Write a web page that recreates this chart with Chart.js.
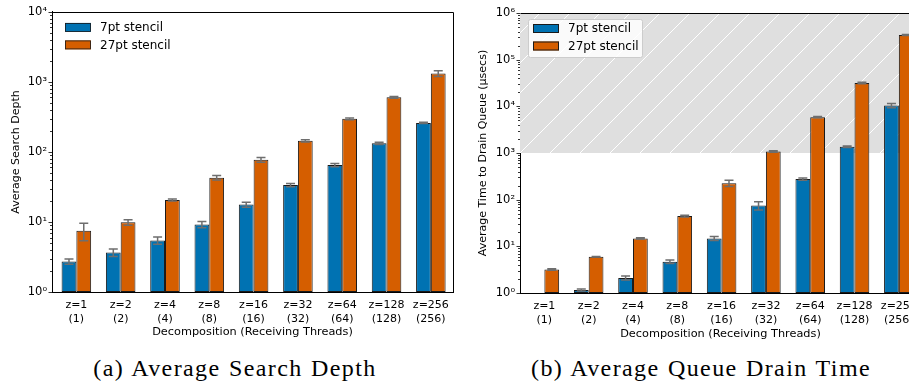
<!DOCTYPE html>
<html>
<head>
<meta charset="utf-8">
<script src="https://cdn.jsdelivr.net/npm/chart.js@4.4.1/dist/chart.umd.min.js"></script>
<style>
  html, body { margin: 0; padding: 0; background: #fff; width: 909px; height: 383px; overflow: hidden; }
  .panel { position: absolute; top: 0; }
  .caption {
    position: absolute; top: 355px; white-space: nowrap;
    font-family: "Liberation Serif", "DejaVu Serif", serif; font-size: 24px; color: #000;
    letter-spacing: 1.4px; word-spacing: 1px;
    transform: translateX(-50%);
  }
</style>
</head>
<body>
<div class="panel" style="left:0px"><canvas id="searchDepthChart" width="460" height="345"></canvas></div>
<div class="panel" style="left:468px"><canvas id="drainTimeChart" width="460" height="345"></canvas></div>
<div class="caption" style="left:235px">(a) Average Search Depth</div>
<div class="caption" style="left:701px">(b) Average Queue Drain Time</div>

<script>
// categorias (eixo x)
const zLabels = ["z=1", "z=2", "z=4", "z=8", "z=16", "z=32", "z=64", "z=128", "z=256"];
const threadLabels = ["(1)", "(2)", "(4)", "(8)", "(16)", "(32)", "(64)", "(128)", "(256)"];
const seriesNames = ["7pt stencil", "27pt stencil"];

// (a) profundidade média de busca
const searchDepth7 = [2.72, 3.67, 5.45, 9.2, 17.7, 33.7, 65, 133, 260];
const searchDepth7Err = [0.23, 0.45, 0.65, 0.95, 1.5, 1.8, 3.5, 5, 6];
const searchDepth27 = [7.5, 9.9, 20.6, 42.9, 77.5, 144, 297, 603, 1320];
const searchDepth27Err = [2.1, 0.9, 0.7, 3.2, 6, 5, 8, 18, 120];

// (b) tempo médio para drenar a fila (usecs)
const drainTime7 = [null, 1.16, 2.1, 4.68, 14.8, 75, 276, 1358, 10400];
const drainTime7Err = [0, 0.06, 0.2, 0.4, 1.5, 15, 15, 50, 1100];
const drainTime27 = [3.2, 5.98, 14.8, 44.6, 226, 1077, 5870, 31800, 339000];
const drainTime27Err = [0.12, 0.1, 0.5, 2, 35, 40, 200, 1200, 8000];

const blue = "#0072B2";
const orange = "#D55E00";
const font = "DejaVu Sans";
const supDigits = { "0": "⁰", "1": "¹", "2": "²", "3": "³", "4": "⁴", "5": "⁵", "6": "⁶", "7": "⁷", "8": "⁸", "9": "⁹" };

function powerLabel(v) {
  const e = Math.round(Math.log10(v));
  if (Math.abs(v - Math.pow(10, e)) > 1e-6 * v) return "";
  return "10" + String(e).split("").map((d) => supDigits[d]).join("");
}

// plugin: faixa hachurada, barras de erro, ticks menores, moldura e legenda
const extrasPlugin = {
  id: "extras",
  beforeDatasetsDraw(chart, args, opts) {
    if (opts.shadeFrom == null) return;
    const { ctx, chartArea: a } = chart;
    const y = chart.scales.y;
    const top = y.getPixelForValue(y.max);
    const bottom = y.getPixelForValue(opts.shadeFrom);
    ctx.save();
    ctx.beginPath();
    ctx.rect(a.left, top, a.right - a.left, bottom - top);
    ctx.clip();
    ctx.fillStyle = "#dfdfdf";
    ctx.fillRect(a.left, top, a.right - a.left, bottom - top);
    ctx.strokeStyle = "#fff";
    ctx.lineWidth = 1;
    ctx.beginPath();
    const h = bottom - top;
    for (let x = a.left - h - 10; x < a.right + 10; x += 30) {
      ctx.moveTo(x, bottom);
      ctx.lineTo(x + h, top);
    }
    ctx.stroke();
    ctx.restore();
  },
  afterDatasetsDraw(chart, args, opts) {
    const { ctx, chartArea: a } = chart;
    const y = chart.scales.y;
    ctx.save();

    // barras de erro
    ctx.strokeStyle = "#6e6e6e";
    ctx.lineWidth = 1.5;
    chart.data.datasets.forEach((ds, i) => {
      const meta = chart.getDatasetMeta(i);
      ds.data.forEach((pt, j) => {
        if (pt.y == null) return;
        const e = opts.errors[i][j];
        const bar = meta.data[j];
        const yHi = y.getPixelForValue(pt.y + e);
        const yLo = y.getPixelForValue(Math.max(pt.y - e, 1e-3));
        ctx.beginPath();
        ctx.moveTo(bar.x, yHi);
        ctx.lineTo(bar.x, yLo);
        ctx.moveTo(bar.x - 4.5, yHi);
        ctx.lineTo(bar.x + 4.5, yHi);
        ctx.moveTo(bar.x - 4.5, yLo);
        ctx.lineTo(bar.x + 4.5, yLo);
        ctx.stroke();
      });
    });

    // moldura (topo e direita)
    ctx.strokeStyle = "#000";
    ctx.lineWidth = 1;
    ctx.beginPath();
    ctx.moveTo(Math.round(a.left) + 0.5, Math.round(a.top) + 0.5);
    ctx.lineTo(Math.round(a.right) + 0.5, Math.round(a.top) + 0.5);
    ctx.lineTo(Math.round(a.right) + 0.5, Math.round(a.bottom) + 0.5);
    ctx.stroke();

    // ticks do eixo y (maiores e menores)
    ctx.lineWidth = 0.8;
    ctx.beginPath();
    const maxExp = Math.round(Math.log10(y.max));
    for (let e = 0; e <= maxExp; e++) {
      for (let k = 1; k <= 9; k++) {
        const v = k * Math.pow(10, e);
        if (v > y.max * 1.0001) break;
        const py = Math.round(y.getPixelForValue(v)) + 0.5;
        const len = k === 1 ? 3.5 : 2;
        ctx.moveTo(a.left - len, py);
        ctx.lineTo(a.left, py);
      }
    }
    ctx.stroke();

    // legenda
    const lx = a.left + opts.legendX;
    const ly = a.top + opts.legendY;
    if (opts.legendFrame) {
      ctx.fillStyle = "rgba(255,255,255,0.85)";
      ctx.strokeStyle = "#cccccc";
      ctx.lineWidth = 1;
      ctx.beginPath();
      ctx.roundRect(lx - 4.5, ly - 4.5, 114, 38, 2);
      ctx.fill();
      ctx.stroke();
    }
    ctx.font = "12px '" + font + "'";
    ctx.textBaseline = "middle";
    chart.data.datasets.forEach((ds, i) => {
      const py = ly + i * 17.5;
      ctx.fillStyle = ds.backgroundColor;
      ctx.fillRect(lx, py, 26, 9);
      ctx.strokeStyle = "#1a1a1a";
      ctx.strokeRect(lx + 0.5, py + 0.5, 25, 8);
      ctx.fillStyle = "#000";
      ctx.fillText(ds.label, lx + 35, py + 5);
    });
    ctx.restore();
  },
};

function makeChart(canvasId, values7, values27, err7, err27, yMax, yTitle, cfg) {
  return new Chart(document.getElementById(canvasId), {
    type: "bar",
    data: {
      datasets: [
        {
          label: seriesNames[0],
          data: values7.map((v, i) => ({ x: i, y: v })),
          backgroundColor: blue,
        },
        {
          label: seriesNames[1],
          data: values27.map((v, i) => ({ x: i, y: v })),
          backgroundColor: orange,
        },
      ],
    },
    options: {
      responsive: false,
      animation: false,
      devicePixelRatio: 1,
      datasets: {
        bar: {
          borderColor: "#1a1a1a",
          borderWidth: 1,
          borderSkipped: false,
          categoryPercentage: 0.667,
          barPercentage: 1.0,
        },
      },
      layout: { padding: { left: 0, top: cfg.top, right: 7, bottom: 0 } },
      plugins: {
        legend: { display: false },
        tooltip: { enabled: false },
        extras: {
          errors: [err7, err27],
          shadeFrom: cfg.shadeFrom,
          legendFrame: cfg.legendFrame,
          legendX: 13,
          legendY: 11,
        },
      },
      scales: {
        x: {
          type: "linear",
          min: -0.55,
          max: 8.5,
          offset: false,
          grid: { display: false, drawTicks: false },
          border: { display: true, color: "#000", width: 1 },
          afterBuildTicks: (s) => {
            s.ticks = zLabels.map((_, i) => ({ value: i }));
          },
          ticks: {
            autoSkip: false,
            maxRotation: 0,
            padding: 7,
            color: "#000",
            font: { family: font, size: 11 },
            callback: (v) => [zLabels[v], threadLabels[v]],
          },
          title: {
            display: true,
            text: "Decomposition (Receiving Threads)",
            color: "#000",
            font: { family: font, size: 11.3 },
            padding: { top: 0, bottom: cfg.xTitlePad },
          },
          afterFit: (s) => {
            s.height = 345 - cfg.bottom;
          },
        },
        y: {
          type: "logarithmic",
          min: 1,
          max: yMax,
          grid: { display: false, drawTicks: false },
          border: { display: true, color: "#000", width: 1 },
          ticks: {
            autoSkip: false,
            padding: 5,
            color: "#000",
            font: { family: font, size: 11.5 },
            callback: (v) => powerLabel(v),
          },
          title: {
            display: true,
            text: yTitle,
            color: "#000",
            font: { family: font, size: 11 },
            padding: { top: cfg.yTitlePad, bottom: 0 },
          },
          afterFit: (s) => {
            s.width = 52;
          },
        },
      },
    },
    plugins: [extrasPlugin],
  });
}

const searchDepthChart = makeChart(
  "searchDepthChart",
  searchDepth7, searchDepth27, searchDepth7Err, searchDepth27Err,
  1e4, "Average Search Depth",
  { top: 11, bottom: 292, xTitlePad: 6.4, yTitlePad: 10, shadeFrom: null, legendFrame: false }
);

const drainTimeChart = makeChart(
  "drainTimeChart",
  drainTime7, drainTime27, drainTime7Err, drainTime27Err,
  1e6, "Average Time to Drain Queue (μsecs)",
  { top: 13, bottom: 293, xTitlePad: 4.4, yTitlePad: 9, shadeFrom: 1000, legendFrame: true }
);
</script>
</body>
</html>
